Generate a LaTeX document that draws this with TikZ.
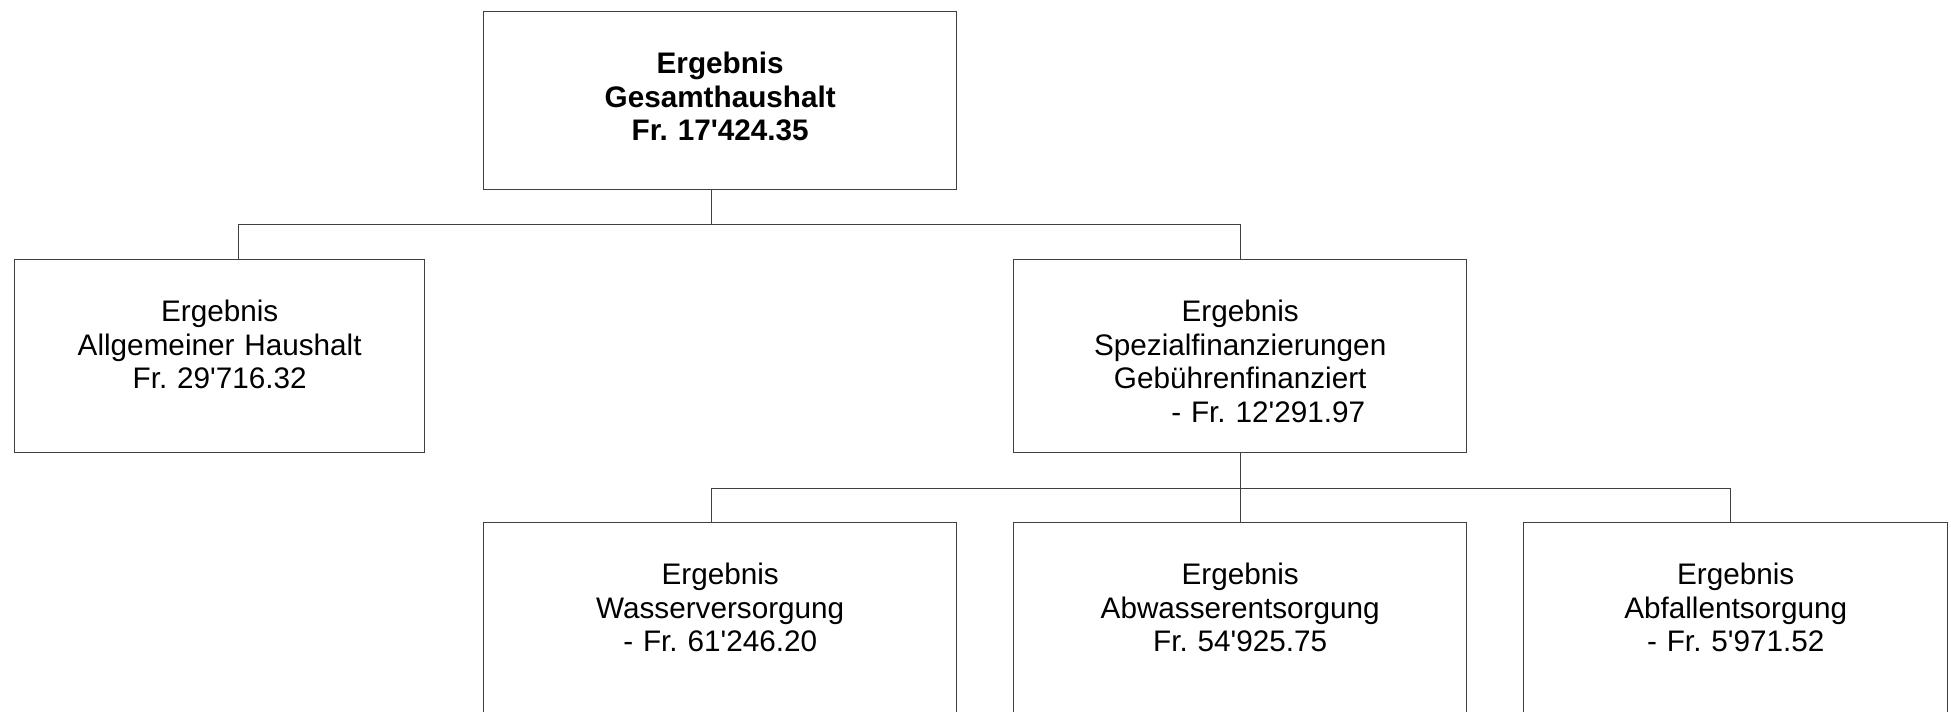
\documentclass[tikz,border=0pt]{standalone}
\usepackage{fontspec}
\newfontfamily\chartfont{Liberation Sans}
\usepackage{tikz}
\frenchspacing
\tikzset{
  % style for a result box, the argument is its width
  result box/.style={
    draw=black!75, line width=0.8pt, inner sep=0pt,
    text width=#1, align=center,
    text height=1.24cm, text depth=2.62cm,
    font=\chartfont\fontsize{16.9}{19.1}\selectfont,
  },
  % style for the lines between the boxes
  link/.style={draw=black!75, line width=0.8pt},
}

\begin{document}
\begin{tikzpicture}

\useasboundingbox (0,0) rectangle (39.02,-14.24);

% Boxes
\node[result box=9.46cm, anchor=north west, text depth=2.32cm,
  font=\chartfont\bfseries\fontsize{16.9}{19.1}\selectfont]
  (gesamt) at (9.66,-0.22) {Ergebnis\\Gesamthaushalt\\Fr. 17'424.35};

\node[result box=8.2cm, anchor=north west] (allg) at (0.28,-5.18)
  {Ergebnis\\Allgemeiner Haushalt\\Fr. 29'716.32};
\node[result box=9.06cm, anchor=north west] (spezial) at (20.26,-5.18)
  {Ergebnis\\Spezialfinanzierungen\\Gebührenfinanziert\\\hspace*{1.12cm}- Fr. 12'291.97};

\node[result box=9.46cm, anchor=north west, text depth=2.8cm] (wasser) at (9.66,-10.44)
  {Ergebnis\\Wasserversorgung\\- Fr. 61'246.20};
\node[result box=9.06cm, anchor=north west, text depth=2.8cm] (abwasser) at (20.26,-10.44)
  {Ergebnis\\Abwasserentsorgung\\Fr. 54'925.75};
\node[result box=8.48cm, anchor=north west, text depth=2.8cm] (abfall) at (30.46,-10.44)
  {Ergebnis\\Abfallentsorgung\\- Fr. 5'971.52};

% Lines
\draw[link] ([xshift=-0.17cm]gesamt.south) -- ++(0,-0.68) coordinate (bus top);
\draw[link] ([xshift=0.38cm]allg.north) |- (bus top) -| (spezial.north);

\draw[link] (spezial.south) -- ++(0,-0.7) coordinate (bus low);
\draw[link] ([xshift=-0.17cm]wasser.north) |- (bus low) -| ([xshift=-0.1cm]abfall.north);
\draw[link] (bus low) -- (abwasser.north);

\end{tikzpicture}
\end{document}
